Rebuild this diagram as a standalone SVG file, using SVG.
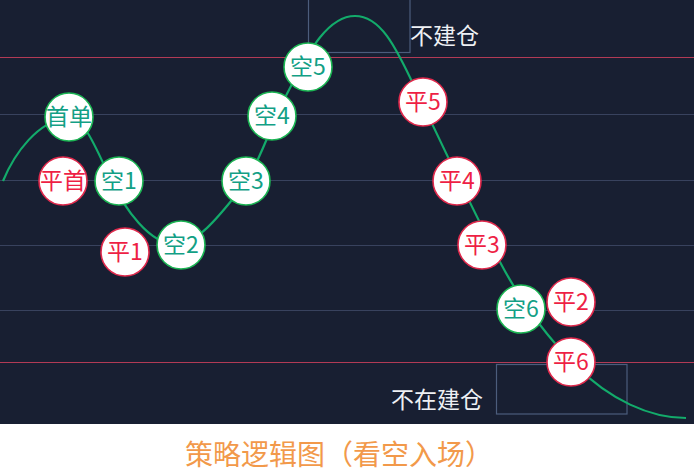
<svg xmlns="http://www.w3.org/2000/svg" width="694" height="474" viewBox="0 0 694 474">
<style>
.bg{fill:#181f32}
.grid{stroke:#38425e;stroke-width:1.2}
.redline{stroke:#b23a55;stroke-width:1.2}
.box{fill:none;stroke:#4c5d7c;stroke-width:1.2}
.curve{fill:none;stroke:#13ab6b;stroke-width:2.2}
.kong circle{fill:#ffffff;stroke:#1bb553;stroke-width:1.6}
.ping circle{fill:#ffffff;stroke:#e0294c;stroke-width:1.6}
.kong text{fill:#13a085}
.ping text{fill:#ee1f45}
text{font-family:"Noto Sans CJK SC","Noto Sans",sans-serif;font-size:23px;text-anchor:middle}
.note{fill:#eef0f4;font-size:23px;text-anchor:start}
.title{fill:#f2994a;font-size:28px}
</style>
<rect class="bg" x="0" y="0" width="694" height="424"/>
<rect x="0" y="424" width="694" height="50" fill="#ffffff"/>
<g id="gridlines">
<line class="redline" x1="0" y1="57.5" x2="694" y2="57.5"/>
<line class="grid" x1="0" y1="114.5" x2="694" y2="114.5"/>
<line class="grid" x1="0" y1="180.5" x2="694" y2="180.5"/>
<line class="grid" x1="0" y1="245.5" x2="694" y2="245.5"/>
<line class="grid" x1="0" y1="310.5" x2="694" y2="310.5"/>
<line class="redline" x1="0" y1="362.5" x2="694" y2="362.5"/>
</g>
<g id="boxes">
<rect class="box" x="308.5" y="-1" width="101.5" height="53.5"/>
<rect class="box" x="496.5" y="364.5" width="130.5" height="49.5"/>
</g>
<g id="connectors">
<path class="curve" d="M3,181 C15,152 38,122 66,118 C82,116 92,138 110,178 C125,210 150,244 175,244 C198,244 220,215 240,190 C262,160 270,125 290,88 C305,60 325,16 355,16 C380,16 395,45 415,88 C440,140 470,205 500,262 C520,300 545,335 575,365 C610,400 650,418 686,418"/>
</g>
<g id="n-shoudan" class="kong"><circle cx="69" cy="117" r="24"/><text x="69" y="125">首单</text></g>
<g id="n-pingshou" class="ping"><circle cx="63" cy="181" r="24"/><text x="63" y="189">平首</text></g>
<g id="n-kong1" class="kong"><circle cx="119" cy="181" r="24"/><text x="119" y="189">空1</text></g>
<g id="n-ping1" class="ping"><circle cx="125" cy="252" r="24"/><text x="125" y="260">平1</text></g>
<g id="n-kong2" class="kong"><circle cx="181" cy="245" r="24"/><text x="181" y="253">空2</text></g>
<g id="n-kong3" class="kong"><circle cx="246" cy="181" r="24"/><text x="246" y="189">空3</text></g>
<g id="n-kong4" class="kong"><circle cx="272" cy="116" r="24"/><text x="272" y="124">空4</text></g>
<g id="n-kong5" class="kong"><circle cx="308" cy="67" r="24"/><text x="308" y="75">空5</text></g>
<g id="n-ping5" class="ping"><circle cx="423" cy="102" r="24"/><text x="423" y="110">平5</text></g>
<g id="n-ping4" class="ping"><circle cx="457" cy="181" r="24"/><text x="457" y="189">平4</text></g>
<g id="n-ping3" class="ping"><circle cx="482" cy="245" r="24"/><text x="482" y="253">平3</text></g>
<g id="n-kong6" class="kong"><circle cx="521" cy="309" r="24"/><text x="521" y="317">空6</text></g>
<g id="n-ping2" class="ping"><circle cx="571" cy="302" r="24"/><text x="571" y="310">平2</text></g>
<g id="n-ping6" class="ping"><circle cx="571" cy="362" r="24"/><text x="571" y="370">平6</text></g>
<g id="labels">
<text class="note" x="410" y="44">不建仓</text>
<text class="note" x="391" y="408">不在建仓</text>
<text class="title" x="339" y="465">策略逻辑图（看空入场）</text>
</g>
</svg>
